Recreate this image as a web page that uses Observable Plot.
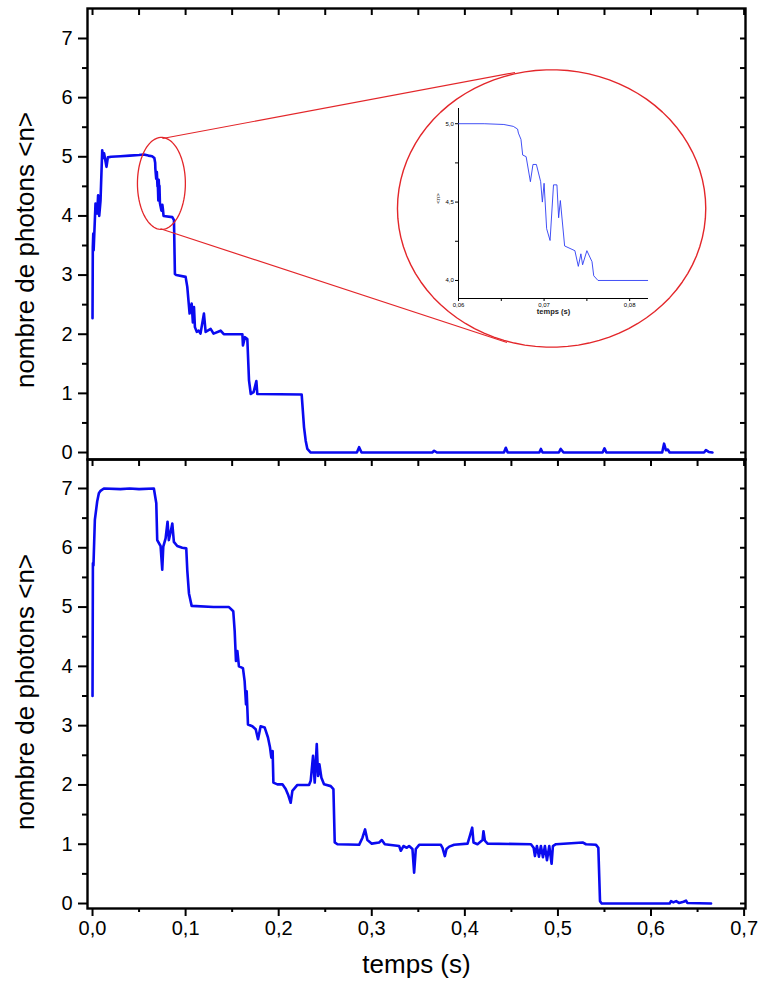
<!DOCTYPE html>
<html><head><meta charset="utf-8">
<script src="https://cdn.jsdelivr.net/npm/d3@7"></script>
<script src="https://cdn.jsdelivr.net/npm/@observablehq/plot@0.6"></script>
<style>
body{margin:0;background:#fff;}
#wrap{position:relative;width:765px;height:992px;}
#wrap svg{display:block;}
#inset{position:absolute;left:400px;top:60px;}
</style></head><body><div id="wrap"><div id="top"></div><div id="bottom"></div><div id="inset"></div></div>
<script>
// ---- data ----
const timeTop = [0.0000,0.0003,0.0008,0.0012,0.0032,0.0050,0.0060,0.0072,0.0086,0.0104,0.0115,0.0124,0.0150,0.0165,0.0200,0.0300,0.0400,0.0500,0.0550,0.0600,0.0640,
  0.0664,0.0673,0.0675,0.0684,0.0691,0.0698,0.0700,0.0707,0.0711,0.0717,0.0719,0.0724,0.0740,0.0745,0.0750,0.0756,0.0763,
  0.0857,0.0875,0.0885,0.0900,0.1000,0.1018,0.1043,0.1065,0.1078,0.1090,0.1100,0.1120,0.1140,0.1160,0.1197,0.1215,0.1269,0.1300,0.1376,0.1410,
  0.1610,0.1616,0.1638,0.1663,0.1681,0.1700,0.1730,0.1760,0.1770,0.2247,0.2272,0.2290,0.2308,0.2344,
  0.2840,0.2864,0.2890,0.3650,0.3670,0.3700,0.4420,0.4440,0.4460,0.4800,0.4817,0.4835,0.5010,0.5030,0.5060,0.5480,0.5500,0.5520,
  0.6120,0.6140,0.6160,0.6180,0.6200,0.6570,0.6590,0.6620,0.6660];
const photonsTop = [2.27,3.47,3.70,3.42,4.21,4.04,4.35,4.00,4.26,5.11,4.98,5.06,4.83,4.99,5.00,5.01,5.02,5.03,5.04,5.02,5.01,
  4.98,4.90,4.80,4.63,4.74,4.50,4.62,4.26,4.61,4.40,4.51,4.22,4.09,4.10,4.19,4.12,4.00,
  3.98,3.93,3.02,3.00,2.97,2.80,2.35,2.52,2.20,2.46,2.12,2.04,2.06,2.01,2.35,2.04,2.09,2.01,2.06,2.00,
  2.00,1.81,1.95,1.92,1.22,0.99,1.02,1.21,0.99,0.98,0.43,0.20,0.06,0.00,
  0.00,0.09,0.00,0.00,0.03,0.00,0.00,0.08,0.00,0.00,0.06,0.00,0.00,0.06,0.00,0.00,0.07,0.00,
  0.00,0.15,0.04,0.05,0.00,0.00,0.04,0.01,0.00];

const timeBottom = [0.0000,0.0004,0.0010,0.0025,0.0050,0.0068,0.0086,0.0122,0.0300,0.0400,0.0500,0.0659,0.0685,0.0695,0.0731,0.0749,0.0760,0.0785,0.0806,0.0820,0.0840,0.0857,0.0874,0.0910,0.0964,0.1007,
  0.1018,0.1036,0.1065,0.1300,0.1466,0.1512,0.1527,0.1541,0.1556,0.1573,0.1616,0.1634,0.1649,0.1656,0.1670,0.1717,0.1753,0.1778,0.1806,0.1849,0.1885,0.1907,0.1921,0.1935,0.1943,
  0.1986,0.2040,0.2075,0.2100,0.2129,0.2147,0.2201,0.2326,0.2344,0.2369,0.2387,0.2409,0.2423,0.2437,0.2459,0.2487,0.2559,0.2588,0.2602,0.2631,
  0.2864,0.2900,0.2928,0.2953,0.3000,0.3079,0.3108,0.3140,0.3294,0.3312,0.3340,0.3376,0.3401,0.3437,0.3455,0.3473,0.3509,0.3742,0.3760,0.3785,0.3803,0.3832,0.3885,
  0.4029,0.4054,0.4079,0.4093,0.4136,0.4190,0.4200,0.4215,0.4244,0.4710,0.4739,0.4753,0.4774,0.4796,0.4817,0.4839,0.4860,0.4882,0.4907,0.4932,0.4946,0.4978,
  0.5265,0.5301,0.5409,0.5434,0.5452,0.5470,0.6200,0.6215,0.6240,0.6270,0.6300,0.6350,0.6376,0.6390,0.6645];
const photonsBottom = [3.50,5.74,5.70,6.47,6.78,6.92,6.96,7.00,6.99,7.00,6.99,7.00,6.75,6.13,6.03,5.63,6.02,6.16,6.44,6.13,6.27,6.41,6.10,6.03,6.00,5.99,
  5.62,5.23,5.02,5.00,5.00,4.93,4.60,4.09,4.26,4.00,3.97,3.75,3.36,3.58,3.02,2.99,2.94,2.77,2.99,2.97,2.80,2.63,2.46,2.57,2.04,
  2.01,2.01,1.93,1.84,1.70,1.90,2.00,2.00,2.07,2.49,2.04,2.69,2.15,2.35,2.12,2.01,1.98,1.93,1.03,1.00,
  0.99,1.11,1.25,1.07,1.01,1.03,1.07,1.00,0.97,0.89,0.97,0.94,0.97,0.92,0.52,0.92,0.99,0.99,0.94,0.80,0.92,0.96,0.99,
  1.01,1.14,1.28,1.03,1.00,1.07,1.22,1.06,1.01,1.00,0.94,0.80,0.97,0.79,0.97,0.78,0.97,0.73,0.97,0.67,0.97,1.00,
  1.03,1.00,0.99,0.94,0.04,0.00,0.00,0.04,0.02,0.04,0.01,0.03,0.05,0.01,0.00];

const timeZoom = [0.0600,0.0630,0.0653,0.0664,0.0669,0.0670,0.0673,0.0675,0.0679,0.0684,0.0687,0.0691,0.0696,0.0698,0.0700,0.0703,0.0707,0.0711,0.0715,0.0717,0.0719,0.0724,0.0736,0.0740,0.0743,0.0745,0.0750,0.0756,0.0758,0.0763,0.0821];
const photonsZoom = [5.00,5.00,4.995,4.983,4.966,4.94,4.90,4.80,4.79,4.63,4.74,4.74,4.63,4.50,4.62,4.33,4.255,4.61,4.61,4.40,4.51,4.22,4.19,4.09,4.17,4.10,4.19,4.12,4.03,4.00,4.00];

const xTicks = [0,0.1,0.2,0.3,0.4,0.5,0.6,0.7];
const xMinorTicks = [0.05,0.15,0.25,0.35,0.45,0.55,0.65];
const yTicks = [0,1,2,3,4,5,6,7];
const yMinorTicks = [0.5,1.5,2.5,3.5,4.5,5.5,6.5];
const zoomXTicks = [0.06,0.07,0.08];
const zoomXMinorTicks = [0.065,0.075];
const zoomYTicks = [4.0,4.5,5.0];
const zoomYMinorTicks = [4.25,4.75];

// annotation shapes (data units of the top panel): [cx, cy, rx, ry]
const zoomEllipse = [0.0740, 4.549, 0.02575, 0.778];
const lensEllipse = [0.4932, 4.126, 0.1656, 2.345];
const connectorX1 = [0.0751, 0.0730];
const connectorY1 = [5.309, 3.783];
const connectorX2 = [0.4539, 0.4453];
const connectorY2 = [6.425, 1.860];

// ---- drawing ----
const FONT = "'Liberation Sans', Arial, Helvetica, sans-serif";
const BLUE = "#0a0af0";
const RED = "#e3262a";
const comma1 = d => d.toFixed(1).replace(".", ",");
const blank = () => "";
const allY = yTicks.concat(yMinorTicks);
const allX = xTicks.concat(xMinorTicks);
const ellipsePts = ([cx, cy, rx, ry]) => d3.range(0, 361, 4).map(a => ({x: cx + rx * Math.cos(a * Math.PI / 180), y: cy + ry * Math.sin(a * Math.PI / 180)}));

function panelMarks(t, n, label, labelDy) {
  return [
    Plot.axisY(yTicks, {anchor: "left", tickSize: 9, tickPadding: 6, tickFormat: d3.format("d"), fontSize: 20, label: null, strokeWidth: 2}),
    Plot.axisY(yMinorTicks, {anchor: "left", tickSize: 5, tickFormat: blank, label: null, strokeWidth: 2}),
    Plot.axisY(allY, {anchor: "right", tickSize: 6, dx: -6, tickFormat: blank, label: null, strokeWidth: 2}),
    Plot.axisX(allX, {anchor: "top", tickSize: 6, dy: 6, tickFormat: blank, label: null, strokeWidth: 2}),
    Plot.line({length: t.length}, {x: t, y: n, stroke: BLUE, strokeWidth: 2.6, strokeLinejoin: "round"}),
    Plot.frame({stroke: "black", strokeWidth: 2.4}),
    Plot.text([label], {text: d => d, frameAnchor: "left", textAnchor: "middle", lineAnchor: "middle", rotate: -90, dx: -62, dy: labelDy, fontSize: 26, fill: "black"})
  ];
}

const topPlot = Plot.plot({
  width: 765, height: 459,
  marginLeft: 87, marginRight: 20, marginTop: 8, marginBottom: 0,
  x: {domain: [-0.0054, 0.7015], axis: null},
  y: {domain: [-0.118, 7.507], axis: null},
  style: {fontFamily: FONT, color: "black", background: "transparent", overflow: "visible"},
  marks: [
    ...panelMarks(timeTop, photonsTop, "nombre de photons <n>", 16),
    Plot.line(ellipsePts(zoomEllipse), {x: "x", y: "y", stroke: RED, strokeWidth: 1.3}),
    Plot.line(ellipsePts(lensEllipse), {x: "x", y: "y", stroke: RED, strokeWidth: 1.4}),
    Plot.link({length: 2}, {x1: connectorX1, y1: connectorY1, x2: connectorX2, y2: connectorY2, stroke: RED, strokeWidth: 1.2})
  ]
});
document.getElementById("top").appendChild(topPlot);

const bottomPlot = Plot.plot({
  width: 765, height: 533,
  marginLeft: 87, marginRight: 20, marginTop: 0, marginBottom: 84,
  x: {domain: [-0.0054, 0.7015], axis: null},
  y: {domain: [-0.084, 7.489], axis: null},
  style: {fontFamily: FONT, color: "black", background: "transparent", overflow: "visible"},
  marks: [
    ...panelMarks(timeBottom, photonsBottom, "nombre de photons <n>", 8),
    Plot.axisX(xTicks, {anchor: "bottom", tickSize: 8, tickPadding: 4, tickFormat: comma1, fontSize: 20, label: null, strokeWidth: 2}),
    Plot.axisX(xMinorTicks, {anchor: "bottom", tickSize: 4, tickFormat: blank, label: null, strokeWidth: 2}),
    Plot.text(["temps (s)"], {text: d => d, frameAnchor: "bottom", textAnchor: "middle", dy: 64, fontSize: 26, fill: "black"})
  ]
});
document.getElementById("bottom").appendChild(bottomPlot);

const insetPlot = Plot.plot({
  width: 300, height: 290,
  marginLeft: 58, marginRight: 52, marginTop: 48, marginBottom: 52,
  x: {domain: [0.06, 0.0822], axis: null},
  y: {domain: [3.885, 5.097], axis: null},
  style: {fontFamily: FONT, color: "black", background: "transparent", overflow: "visible"},
  marks: [
    Plot.axisX(zoomXTicks, {anchor: "bottom", tickSize: 3, tickPadding: 1.5, fontSize: 6, tickFormat: d => d.toFixed(2).replace(".", ","), label: null}),
    Plot.axisX(zoomXMinorTicks, {anchor: "bottom", tickSize: 3, tickFormat: blank, label: null}),
    Plot.axisY(zoomYTicks, {anchor: "left", tickSize: 3, tickPadding: 1.7, fontSize: 6, tickFormat: comma1, label: null}),
    Plot.axisY(zoomYMinorTicks, {anchor: "left", tickSize: 3, tickFormat: blank, label: null}),
    Plot.ruleX([0.06], {stroke: "black", strokeWidth: 1}),
    Plot.ruleY([3.885], {stroke: "black", strokeWidth: 1}),
    Plot.line({length: timeZoom.length}, {x: timeZoom, y: photonsZoom, stroke: "#2c3cf4", strokeWidth: 0.9}),
    Plot.text(["temps (s)"], {text: d => d, frameAnchor: "bottom", textAnchor: "middle", dy: 15, fontSize: 7.5, fontWeight: "bold", fill: "#222"}),
    Plot.text(["<n>"], {text: d => d, frameAnchor: "left", textAnchor: "middle", lineAnchor: "middle", rotate: -90, dx: -20, dy: -5, fontSize: 6, fill: "#222"})
  ]
});
document.getElementById("inset").appendChild(insetPlot);
</script></body></html>
